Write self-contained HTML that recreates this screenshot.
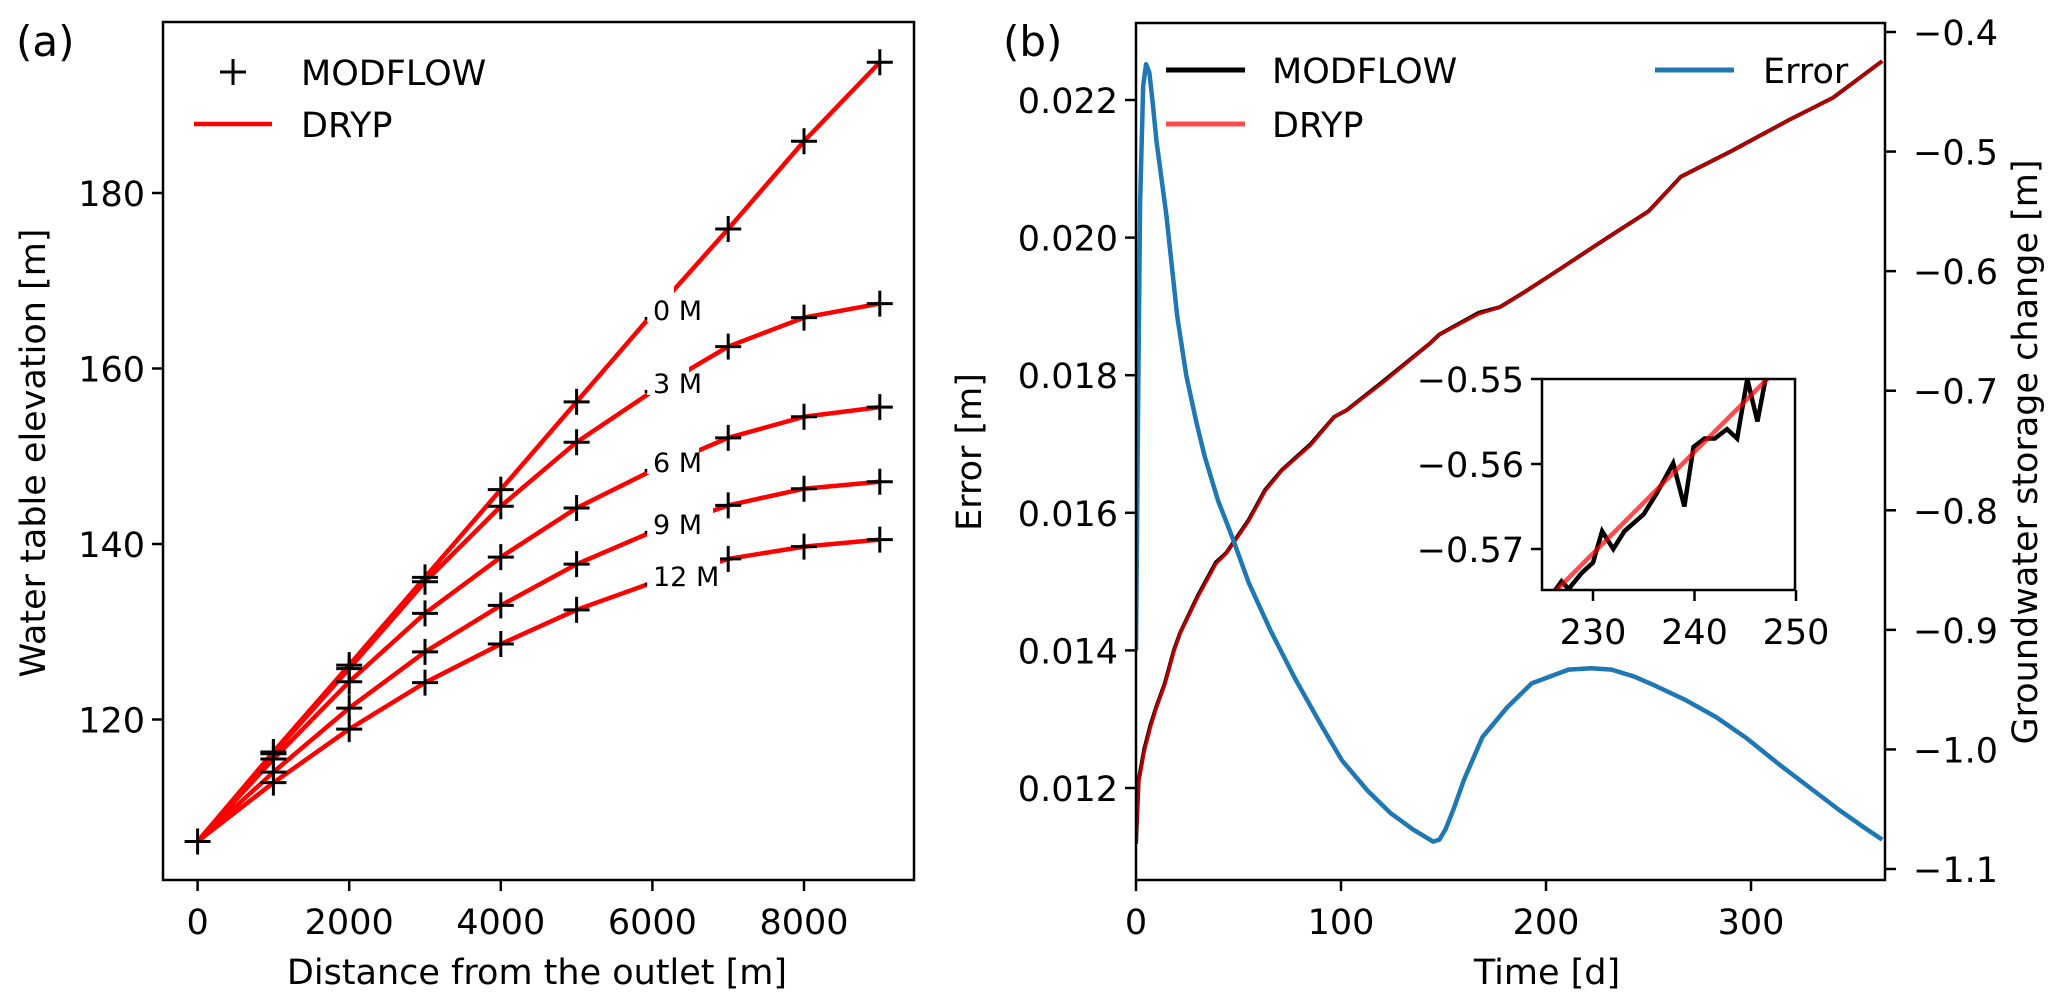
<!DOCTYPE html>
<html><head><meta charset="utf-8"><style>
html,body{margin:0;padding:0;background:#fff;}
svg{display:block;font-family:"DejaVu Sans","Liberation Sans",sans-serif;}
</style></head><body>
<svg id="fig" width="2067" height="1007" viewBox="0 0 2067 1007" xmlns="http://www.w3.org/2000/svg">
<rect width="2067" height="1007" fill="#fff"/>
<g id="pa"></g>
<g id="pb"></g>
</svg>
<script>
// ---------- Panel (a) data ----------
const distX = [0,1000,2000,3000,4000,5000,6000,7000,8000,9000];
const seriesNames = ["0 M","3 M","6 M","9 M","12 M"];
const elev0 = [106.1,116.3,126.2,136.2,146.2,156.2,166.2,175.9,185.9,194.9];
const elev3 = [106.1,116.1,125.8,135.7,144.3,151.6,157.4,162.5,165.8,167.4];
const elev6 = [106.1,115.5,124.3,132.1,138.5,144.1,148.4,152.1,154.5,155.6];
const elev9 = [106.1,114.0,121.3,127.7,133.0,137.7,141.4,144.4,146.3,147.1];
const elev12 = [106.1,112.8,118.9,124.2,128.6,132.5,135.6,138.3,139.7,140.5];
const xTicksA = [0,2000,4000,6000,8000];
const yTicksA = [120,140,160,180];

// ---------- Panel (b) data ----------
const errT = [0,1,2,3.5,4.9,6.5,8,10,14.8,20.1,24.5,29.5,33.5,40,46.4,54.9,65.6,77.6,91,100.5,113,124,135,145,148,151,155,160,169,181,193,211,222,232,243,253,268,283,298,313,328,343,355,364];
const errV = [0.0140,0.0175,0.0205,0.0222,0.02252,0.0224,0.0220,0.0214,0.02033,0.01886,0.01800,0.01731,0.01682,0.01618,0.01569,0.01499,0.01429,0.01359,0.01288,0.0124,0.01196,0.01164,0.0114,0.01122,0.01125,0.0114,0.0117,0.01212,0.01274,0.01317,0.01352,0.01372,0.01374,0.01372,0.01362,0.01349,0.01328,0.01303,0.01272,0.01236,0.01202,0.01168,0.01143,0.01125];
const storT = [0,1.3,4,7,9.8,14,18.5,21.5,30,39,44,55,63,71,85,96.6,103,120,143,148,167,177.6,190,207,230,250,265.8,290,318.5,340,364];
const storModflow = [-1.079,-1.026,-1.0,-0.98,-0.965,-0.945,-0.917,-0.9026,-0.872,-0.8435,-0.8357,-0.808,-0.783,-0.7666,-0.745,-0.722,-0.716,-0.693,-0.661,-0.653,-0.635,-0.630,-0.617,-0.598,-0.572,-0.550,-0.521,-0.500,-0.4736,-0.455,-0.4243];
const storDryp = [-1.079,-1.028,-1.002,-0.982,-0.966,-0.946,-0.918,-0.903,-0.873,-0.845,-0.836,-0.809,-0.784,-0.767,-0.746,-0.722,-0.716,-0.694,-0.661,-0.653,-0.636,-0.630,-0.617,-0.598,-0.572,-0.550,-0.521,-0.500,-0.4736,-0.455,-0.4243];
const insetT = [225,226.3,226.9,227.6,228.9,230,230.9,232,233.1,235,236.3,237.9,239,239.9,241,242,243.2,244.2,245.2,246.2,247,248];
const insetModflow = [-0.5762,-0.5748,-0.5738,-0.5747,-0.5728,-0.5716,-0.5679,-0.570,-0.5679,-0.5659,-0.5634,-0.5599,-0.565,-0.558,-0.557,-0.557,-0.5559,-0.557,-0.550,-0.555,-0.550,-0.549];
const insetDrypT = [225,248];
const insetDryp = [-0.5765,-0.5490];
const xTicksB = [0,100,200,300];
const yTicksBL = [0.012,0.014,0.016,0.018,0.020,0.022];
const yTicksBR = [-1.1,-1.0,-0.9,-0.8,-0.7,-0.6,-0.5,-0.4];
const xTicksIn = [230,240,250];
const yTicksIn = [-0.57,-0.56,-0.55];

const NS="http://www.w3.org/2000/svg";
function mk(parent,tag,attrs,text){const e=document.createElementNS(NS,tag);for(const k in attrs)e.setAttribute(k,attrs[k]);if(text!==undefined)e.textContent=text;parent.appendChild(e);return e;}
function lin(d0,d1,p0,p1){return v=>p0+(v-d0)*(p1-p0)/(d1-d0);}
function pathD(xs,ys,sx,sy){return xs.map((x,i)=>(i?"L":"M")+sx(x).toFixed(2)+","+sy(ys[i]).toFixed(2)).join("");}
const FS=35;
function fmtMinus(v,d){const s=Math.abs(v).toFixed(d);return (v<0?"\u2212":"")+s;}

// ================= Panel A =================
const pa=document.getElementById('pa');
const A={l:163,r:914,t:22,b:880};
const axA=lin(0,1000,197.6,273.4);
const ayA=lin(120,180,719.5,193);
const clipA=mk(pa,'clipPath',{id:'clipA'});mk(clipA,'rect',{x:A.l,y:A.t,width:A.r-A.l,height:A.b-A.t});
const linesA=mk(pa,'g',{'clip-path':'url(#clipA)'});


const allSeries=[elev0,elev3,elev6,elev9,elev12];
allSeries.forEach((s,i)=>{
  const p=mk(linesA,'path',{d:pathD(distX,s,axA,ayA),fill:'none',stroke:'#ff0000','stroke-width':4.5,'stroke-linejoin':'round'});
  
  
});
const mkA=mk(pa,'g',{});


allSeries.forEach((s,si)=>{
  distX.forEach((x,i)=>{
    if(x===6000)return;
    if(i===0&&si>0)return;
    const cx=axA(x),cy=ayA(s[i]);
    const g=mk(mkA,'path',{d:`M${cx-13},${cy}H${cx+13}M${cx},${cy-13}V${cy+13}`,stroke:'#000','stroke-width':3,fill:'none'});
    
    
  });
});
const labY=[310,383,462,524,576];
const gapW=[27,42,52,66,73];
seriesNames.forEach((n,i)=>{
  const r=mk(pa,'rect',{x:647,y:labY[i]-28,width:gapW[i],height:40,fill:'#fff'});
  
  
  const t=mk(pa,'text',{x:642,y:labY[i]+10,'font-size':25,fill:'#000'},'.');
  
  
  const t2=mk(pa,'text',{x:653,y:labY[i]+10,'font-size':27,fill:'#000'},n);
  
  
});
const frA=mk(pa,'rect',{x:A.l,y:A.t,width:A.r-A.l,height:A.b-A.t,fill:'none',stroke:'#000','stroke-width':2.5});


xTicksA.forEach(v=>{
  const x=axA(v);
  const tk=mk(pa,'line',{x1:x,x2:x,y1:A.b,y2:A.b+11,stroke:'#000','stroke-width':2.5});
  
  
  const tl=mk(pa,'text',{x:x,y:A.b+54,'font-size':FS,'text-anchor':'middle'},String(v));
  
  
});
yTicksA.forEach(v=>{
  const y=ayA(v);
  const tk=mk(pa,'line',{x1:A.l-11,x2:A.l,y1:y,y2:y,stroke:'#000','stroke-width':2.5});
  
  
  const tl=mk(pa,'text',{x:A.l-18,y:y+13,'font-size':FS,'text-anchor':'end'},String(v));
  
  
});
const xtA=mk(pa,'text',{x:537,y:984,'font-size':FS,'text-anchor':'middle'},'Distance from the outlet [m]');


const ytA=mk(pa,'text',{x:0,y:0,'font-size':FS,'text-anchor':'middle',transform:'translate(45,453) rotate(-90)'},'Water table elevation [m]');


const plA=mk(pa,'text',{x:16,y:56,'font-size':42},'(a)');


const lgA=mk(pa,'g',{});


mk(lgA,'path',{d:'M220,72H246M233,59V85',stroke:'#000','stroke-width':3});
const la1=mk(lgA,'text',{x:301,y:85,'font-size':FS},'MODFLOW');


mk(lgA,'line',{x1:194,x2:272,y1:124,y2:124,stroke:'#ff0000','stroke-width':4.5});
const la2=mk(lgA,'text',{x:301,y:137,'font-size':FS},'DRYP');



// ================= Panel B =================
const pb=document.getElementById('pb');
const B={l:1136,r:1885,t:23,b:880};
const axB=lin(0,100,1136,1341);
const ayL=lin(0.012,0.022,788,100);
const ayR=lin(-1.1,-0.4,869,32);
const clipB=mk(pb,'clipPath',{id:'clipB'});mk(clipB,'rect',{x:B.l,y:B.t,width:B.r-B.l,height:B.b-B.t});
const gB=mk(pb,'g',{'clip-path':'url(#clipB)'});
const pM=mk(gB,'path',{d:pathD(storT,storModflow,axB,ayR),fill:'none',stroke:'#000','stroke-width':4,'stroke-linejoin':'round'});


const pD=mk(gB,'path',{d:pathD(storT,storDryp,axB,ayR),fill:'none',stroke:'#ff0000','stroke-opacity':0.7,'stroke-width':3.5,'stroke-linejoin':'round'});


const pE=mk(gB,'path',{d:pathD(errT,errV,axB,ayL),fill:'none',stroke:'#1f77b4','stroke-width':4.5,'stroke-linejoin':'round'});


const frB=mk(pb,'rect',{x:B.l,y:B.t,width:B.r-B.l,height:B.b-B.t,fill:'none',stroke:'#000','stroke-width':2.5});


xTicksB.forEach(v=>{
  const x=axB(v);
  const tk=mk(pb,'line',{x1:x,x2:x,y1:B.b,y2:B.b+11,stroke:'#000','stroke-width':2.5});
  
  
  const tl=mk(pb,'text',{x:x,y:B.b+54,'font-size':FS,'text-anchor':'middle'},String(v));
  
  
});
yTicksBL.forEach(v=>{
  const y=ayL(v);
  const tk=mk(pb,'line',{x1:B.l-11,x2:B.l,y1:y,y2:y,stroke:'#000','stroke-width':2.5});
  
  
  const tl=mk(pb,'text',{x:B.l-18,y:y+13,'font-size':FS,'text-anchor':'end'},v.toFixed(3));
  
  
});
yTicksBR.forEach(v=>{
  const y=ayR(v);
  const tk=mk(pb,'line',{x1:B.r,x2:B.r+11,y1:y,y2:y,stroke:'#000','stroke-width':2.5});
  
  
  const tl=mk(pb,'text',{x:B.r+28,y:y+13,'font-size':FS},fmtMinus(v,1));
  
  
});
const xtB=mk(pb,'text',{x:1547,y:984,'font-size':FS,'text-anchor':'middle'},'Time [d]');


const ytB=mk(pb,'text',{x:0,y:0,'font-size':FS,'text-anchor':'middle',transform:'translate(981,452) rotate(-90)'},'Error [m]');


const ytB2=mk(pb,'text',{x:0,y:0,'font-size':FS,'text-anchor':'middle',transform:'translate(2037,452) rotate(-90)'},'Groundwater storage change [m]');


const plB=mk(pb,'text',{x:1003,y:56,'font-size':42},'(b)');


const lgB=mk(pb,'g',{});


mk(lgB,'line',{x1:1166,x2:1245,y1:70,y2:70,stroke:'#000','stroke-width':5});
const lb1=mk(lgB,'text',{x:1272,y:83,'font-size':FS},'MODFLOW');


mk(lgB,'line',{x1:1166,x2:1245,y1:124,y2:124,stroke:'#ff4d4d','stroke-width':5});
const lb2=mk(lgB,'text',{x:1272,y:137,'font-size':FS},'DRYP');


mk(lgB,'line',{x1:1655,x2:1734,y1:70,y2:70,stroke:'#1f77b4','stroke-width':5});
const lb3=mk(lgB,'text',{x:1763,y:83,'font-size':FS},'Error');



// inset
const I={l:1542,r:1795,t:379,b:590};
const gI=mk(pb,'g',{});


mk(gI,'rect',{x:I.l,y:I.t,width:I.r-I.l,height:I.b-I.t,fill:'#fff'});
const axI=lin(230,250,1593,1796);
const ayI=lin(-0.57,-0.55,549,379);
const clipI=mk(gI,'clipPath',{id:'clipI'});mk(clipI,'rect',{x:I.l,y:I.t,width:I.r-I.l,height:I.b-I.t});
const gIc=mk(gI,'g',{'clip-path':'url(#clipI)'});
const iM=mk(gIc,'path',{d:pathD(insetT,insetModflow,axI,ayI),fill:'none',stroke:'#000','stroke-width':4.5,'stroke-linejoin':'miter'});


const iD=mk(gIc,'path',{d:pathD(insetDrypT,insetDryp,axI,ayI),fill:'none',stroke:'#ff0000','stroke-opacity':0.7,'stroke-width':4.5});


mk(gI,'rect',{x:I.l,y:I.t,width:I.r-I.l,height:I.b-I.t,fill:'none',stroke:'#000','stroke-width':2.5});
xTicksIn.forEach(v=>{
  const x=axI(v);
  mk(gI,'line',{x1:x,x2:x,y1:I.b,y2:I.b+11,stroke:'#000','stroke-width':2.5});
  const tl=mk(gI,'text',{x:x,y:I.b+54,'font-size':FS,'text-anchor':'middle'},String(v));
  
  
});
yTicksIn.forEach(v=>{
  const y=ayI(v);
  mk(gI,'line',{x1:I.l-11,x2:I.l,y1:y,y2:y,stroke:'#000','stroke-width':2.5});
  const tl=mk(gI,'text',{x:I.l-18,y:y+13,'font-size':FS,'text-anchor':'end'},fmtMinus(v,2));
  
  
});
</script>
</body></html>
